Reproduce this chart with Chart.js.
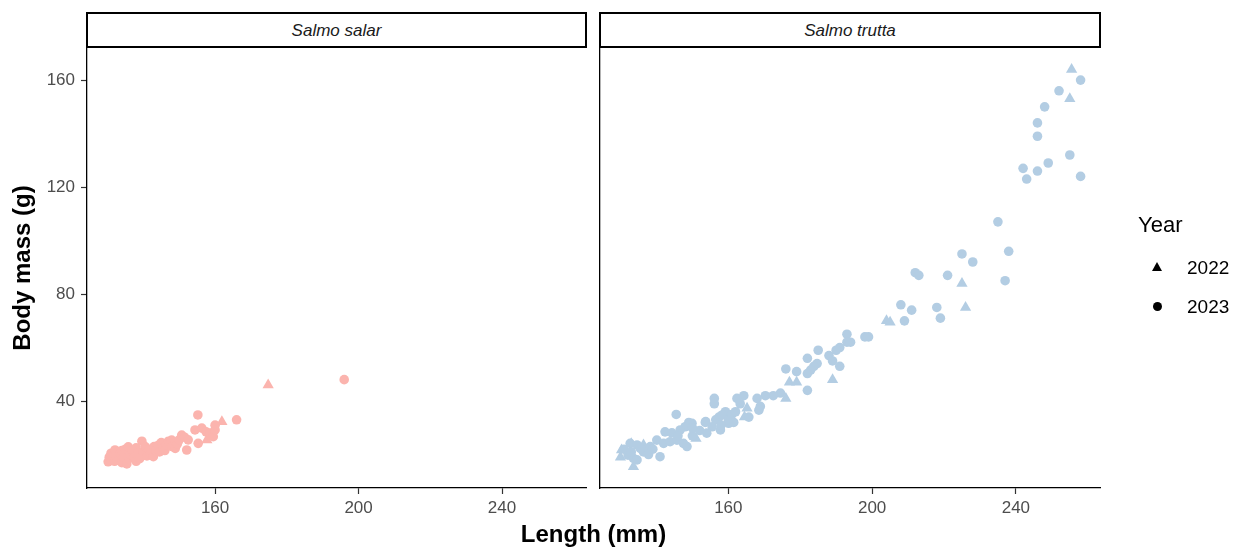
<!DOCTYPE html>
<html>
<head>
<meta charset="utf-8">
<title>Body mass vs length</title>
<script src="https://cdn.jsdelivr.net/npm/chart.js@4.4.1/dist/chart.umd.min.js"></script>
<style>
  body { margin: 0; background: #fff; font-family: "Liberation Sans", Arial, sans-serif; }
  #wrap { position: relative; width: 1239px; height: 547px; overflow: hidden; }
  .panel { position: absolute; top: 48px; height: 499px; }
  .strip {
    position: absolute; top: 12px; height: 36px; box-sizing: border-box;
    border: 2px solid #000; text-align: center; line-height: 34px;
    font-style: italic; font-size: 17px; color: #1a1a1a;
  }
  .axis-title { position: absolute; font-weight: bold; font-size: 24px; color: #000; text-align: center; }
  .legend-title { position: absolute; left: 1138px; top: 212px; font-size: 22px; color: #000; }
  .legend-label { position: absolute; left: 1187px; font-size: 19px; color: #000; line-height: 22px; }
  .tri { position: absolute; width: 0; height: 0; border-left: 5px solid transparent; border-right: 5px solid transparent; border-bottom: 9px solid #000; }
  .dot { position: absolute; width: 9px; height: 9px; border-radius: 50%; background: #000; }
</style>
</head>
<body>
<div id="wrap">
  <div class="strip" style="left:86px; width:501px;">Salmo salar</div>
  <div class="strip" style="left:599px; width:502px;">Salmo trutta</div>

  <div class="panel" style="left:0; width:600px;"><canvas id="salar"></canvas></div>
  <div class="panel" style="left:586px; width:653px;"><canvas id="trutta"></canvas></div>

  <div class="axis-title" style="left:87px; width:1013px; top:521px; line-height:26px;">Length (mm)</div>
  <div class="axis-title" style="left:-198px; top:255px; width:440px; line-height:26px; transform:rotate(-90deg);">Body mass (g)</div>

  <div class="legend-title">Year</div>
  <div class="tri" style="left:1152px; top:262px;"></div>
  <div class="legend-label" style="top:257px;">2022</div>
  <div class="dot" style="left:1153px; top:302px;"></div>
  <div class="legend-label" style="top:296px;">2023</div>
</div>

<script>
// Salmo salar
const salarLen2022 = [157.7, 161.9, 174.8];
const salarMass2022 = [25.4, 32.3, 46];
const salarLen2023 = [130.2, 130.5, 131, 131, 132, 132.1, 132.5, 133, 133.5, 134, 134, 134.5, 135, 135.4,
  135.8, 136, 136.5, 137, 137.5, 138, 138, 138.6, 139, 139.6, 140, 140.5, 141, 141.5, 142, 142.8, 143,
  143.5, 144.2, 144.5, 145, 145.5, 146, 146.5, 147, 147.9, 148, 148.9, 149.5, 150, 150.7, 151.5, 152.1,
  152.5, 154.4, 155.2, 155.3, 156.3, 157.5, 158.6, 159.5, 160, 160, 166, 196];
const salarMass2023 = [17.3, 19, 18, 20.5, 17.5, 21.7, 19.5, 18, 20.5, 17, 21.5, 19, 22, 16.5,
  22.9, 18.5, 20, 21.5, 19, 17.5, 22.5, 20.5, 18.5, 25, 21, 23, 19.5, 22, 20.5, 19.2, 23,
  21.5, 23.5, 21, 24.5, 22.5, 21.5, 23.5, 25, 25.4, 23, 22.3, 24, 25.5, 27.3, 26.5, 21.7,
  25.5, 29.2, 34.8, 24.2, 29.9, 28.5, 28, 26.7, 29.2, 31, 33, 48];

// Salmo trutta
const truttaLen2022 = [255.5, 255, 225, 226, 204, 205, 177, 179, 189, 176, 165.2, 164.5, 151, 130.3,
  136.4, 133.6, 130, 133];
const truttaMass2022 = [164, 153, 84, 75, 70, 69.5, 47, 47, 48, 41, 37.3, 34, 26, 21.7,
  23.6, 15.4, 19, 24];
const truttaLen2023 = [258, 252, 248, 246, 246, 255, 249, 246, 242, 243, 258,
  235, 238, 225, 228, 221, 237, 212, 213, 208, 211, 218, 209, 219,
  193, 193, 194, 198, 199, 191, 185, 190, 182, 188, 189, 191, 184.7, 183.8, 182.9, 182, 176, 179, 182,
  174.5, 172.5, 170.3, 168, 164.3, 162.4, 163.3, 168.9, 168.5, 165.7, 156.1, 156.1,
  159.2, 157.4, 156.5, 153.7, 149.9, 160.1, 161.5, 158.3, 155.5, 157.8, 153.6,
  145.5, 149, 148, 146.6, 142.4, 144.3, 140.1, 142, 143.8, 145.7, 147.5, 148.5, 138.3, 136.4, 137.8,
  141, 132.7, 134.6, 135.5, 132.1, 133.6, 134.6,
  160, 161, 162, 158, 152, 150, 146, 139, 131, 133, 150, 154];
const truttaMass2023 = [160, 156, 150, 144, 139, 132, 129, 126, 127, 123, 124,
  107, 96, 95, 92, 87, 85, 88, 87, 76, 74, 75, 70, 71,
  65, 62, 62, 64, 64, 60, 59, 59, 56, 57, 55, 53, 54, 53, 51.6, 50.3, 52, 51, 44,
  43, 42, 42, 41, 42, 41, 39, 38, 36.6, 34, 41, 39,
  36, 34, 33, 32.3, 31.7, 31.7, 32, 34.8, 30.4, 29.2, 32,
  35, 32, 30.4, 29.2, 28.5, 28.1, 25.4, 24.2, 24.8, 25.4, 24.2, 23, 23, 21, 20,
  19.2, 24.2, 23.6, 22.3, 19.8, 18.6, 18,
  33, 35, 36, 31, 29, 27, 27, 22, 22, 21, 30, 28];

const xTicks = [160, 200, 240];
const yTicks = [40, 80, 120, 160];
const xMin = 124.3, xMax = 263.4;
const yMin = 7.5, yMax = 172;

const salarColor = '#FBB4AE';
const truttaColor = '#B3CDE3';

function toPoints(xs, ys) {
  return xs.map((x, i) => ({ x: x, y: ys[i] }));
}

function yearSets(len22, mass22, len23, mass23, color) {
  return [
    {
      label: '2023', data: toPoints(len23, mass23), pointStyle: 'circle',
      pointRadius: 4.8, backgroundColor: color, borderWidth: 0, pointHoverRadius: 4.8
    },
    {
      label: '2022', data: toPoints(len22, mass22), pointStyle: 'triangle',
      pointRadius: 6.5, backgroundColor: color, borderWidth: 0, pointHoverRadius: 6.5
    }
  ];
}

const tickFont = { family: '"Liberation Sans", Arial, sans-serif', size: 17 };

// fixed axis boxes so both panels share the same plot area
function noPad(s) {
  s.paddingTop = 0; s.paddingBottom = 0; s.paddingLeft = 0; s.paddingRight = 0;
}

function makePanel(id, datasets, yLabels, pad) {
  return new Chart(document.getElementById(id), {
    type: 'scatter',
    data: { datasets: datasets },
    options: {
      responsive: true,
      maintainAspectRatio: false,
      animation: false,
      events: [],
      layout: { padding: pad, autoPadding: false },
      plugins: { legend: { display: false }, tooltip: { enabled: false } },
      scales: {
        x: {
          type: 'linear', min: xMin, max: xMax,
          afterBuildTicks: s => { s.ticks = xTicks.map(v => ({ value: v })); },
          afterFit: s => { s.height = 59; noPad(s); },
          ticks: { color: '#4D4D4D', font: tickFont, padding: 4, maxRotation: 0 },
          grid: { drawOnChartArea: false, drawTicks: true, tickLength: 6, tickColor: '#333', tickWidth: 1.2 },
          border: { display: true, color: '#000', width: 1.3 }
        },
        y: {
          type: 'linear', min: yMin, max: yMax,
          afterBuildTicks: s => { s.ticks = yTicks.map(v => ({ value: v })); },
          afterFit: s => { s.width = yLabels ? 87 : 0; noPad(s); },
          ticks: { display: yLabels, color: '#4D4D4D', font: tickFont, padding: 6 },
          grid: { drawOnChartArea: false, drawTicks: yLabels, tickLength: 6, tickColor: '#333', tickWidth: 1.2 },
          border: { display: true, color: '#000', width: 1.3 }
        }
      }
    }
  });
}

makePanel('salar',
  yearSets(salarLen2022, salarMass2022, salarLen2023, salarMass2023, salarColor),
  true, { left: 0, right: 14, top: 0, bottom: 0 });

makePanel('trutta',
  yearSets(truttaLen2022, truttaMass2022, truttaLen2023, truttaMass2023, truttaColor),
  false, { left: 14, right: 139, top: 0, bottom: 0 });
</script>
</body>
</html>
